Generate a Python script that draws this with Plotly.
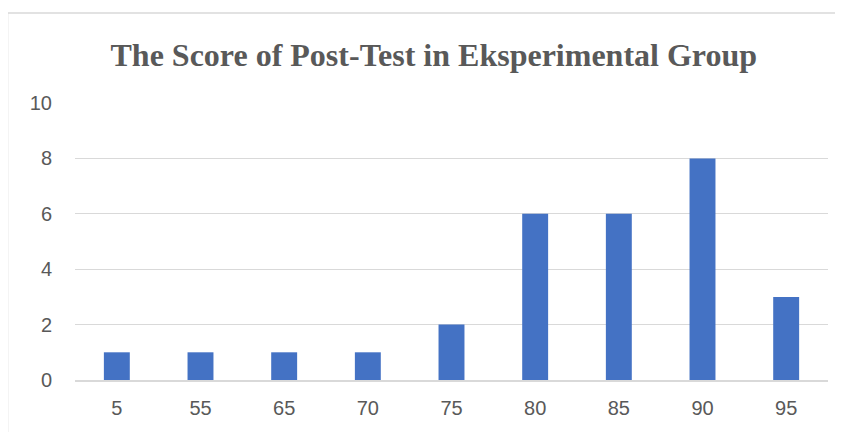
import plotly.graph_objects as go

categories = ["5", "55", "65", "70", "75", "80", "85", "90", "95"]
values = [1, 1, 1, 1, 2, 6, 6, 8, 3]
y_ticks = [0, 2, 4, 6, 8, 10]

fig = go.Figure(go.Bar(x=categories, y=values, marker_color="#4472C4", marker_line_width=0))

OFF = 8  # page body offset
W, H = 843, 432
L, R, T, B = 74.5 - OFF, 15 + OFF, 103 - OFF, 52 + OFF
pw, ph = W - L - R, H - T - B

fig.update_layout(
    width=W, height=H,
    margin=dict(l=L, r=R, t=T, b=B, pad=0),
    paper_bgcolor="white", plot_bgcolor="white",
    bargap=0.69,
    showlegend=False,
    title=dict(text="<b>The Score of Post-Test in Eksperimental Group</b>",
               font=dict(family="Liberation Serif", size=32, color="#595959"),
               x=(433.5 - OFF - L) / pw, xref="paper", xanchor="center",
               y=1 - (55 - OFF) / H, yref="container", yanchor="middle"),
    xaxis=dict(type="category", showgrid=False, showline=True, linecolor="#D9D9D9", linewidth=1.5,
               ticks="", tickfont=dict(family="Liberation Sans", size=20, color="#595959"),
               ticklabelstandoff=9),
    yaxis=dict(range=[0, 10], tickvals=y_ticks, showgrid=True, gridcolor="#D9D9D9", gridwidth=1,
               zeroline=False, showline=False, ticks="",
               tickfont=dict(family="Liberation Sans", size=20, color="#595959"),
               ticklabelstandoff=22),
    shapes=[dict(type="rect", xref="paper", yref="paper",
                 x0=(7 - OFF - L) / pw, x1=(W + 20 - L) / pw,
                 y0=(H - B - (H + 20)) / ph, y1=(H - B - (13 - OFF)) / ph,
                 line=dict(color="#D9D9D9", width=1.5), fillcolor="rgba(0,0,0,0)", layer="below")],
)

fig.write_html("out.html")
